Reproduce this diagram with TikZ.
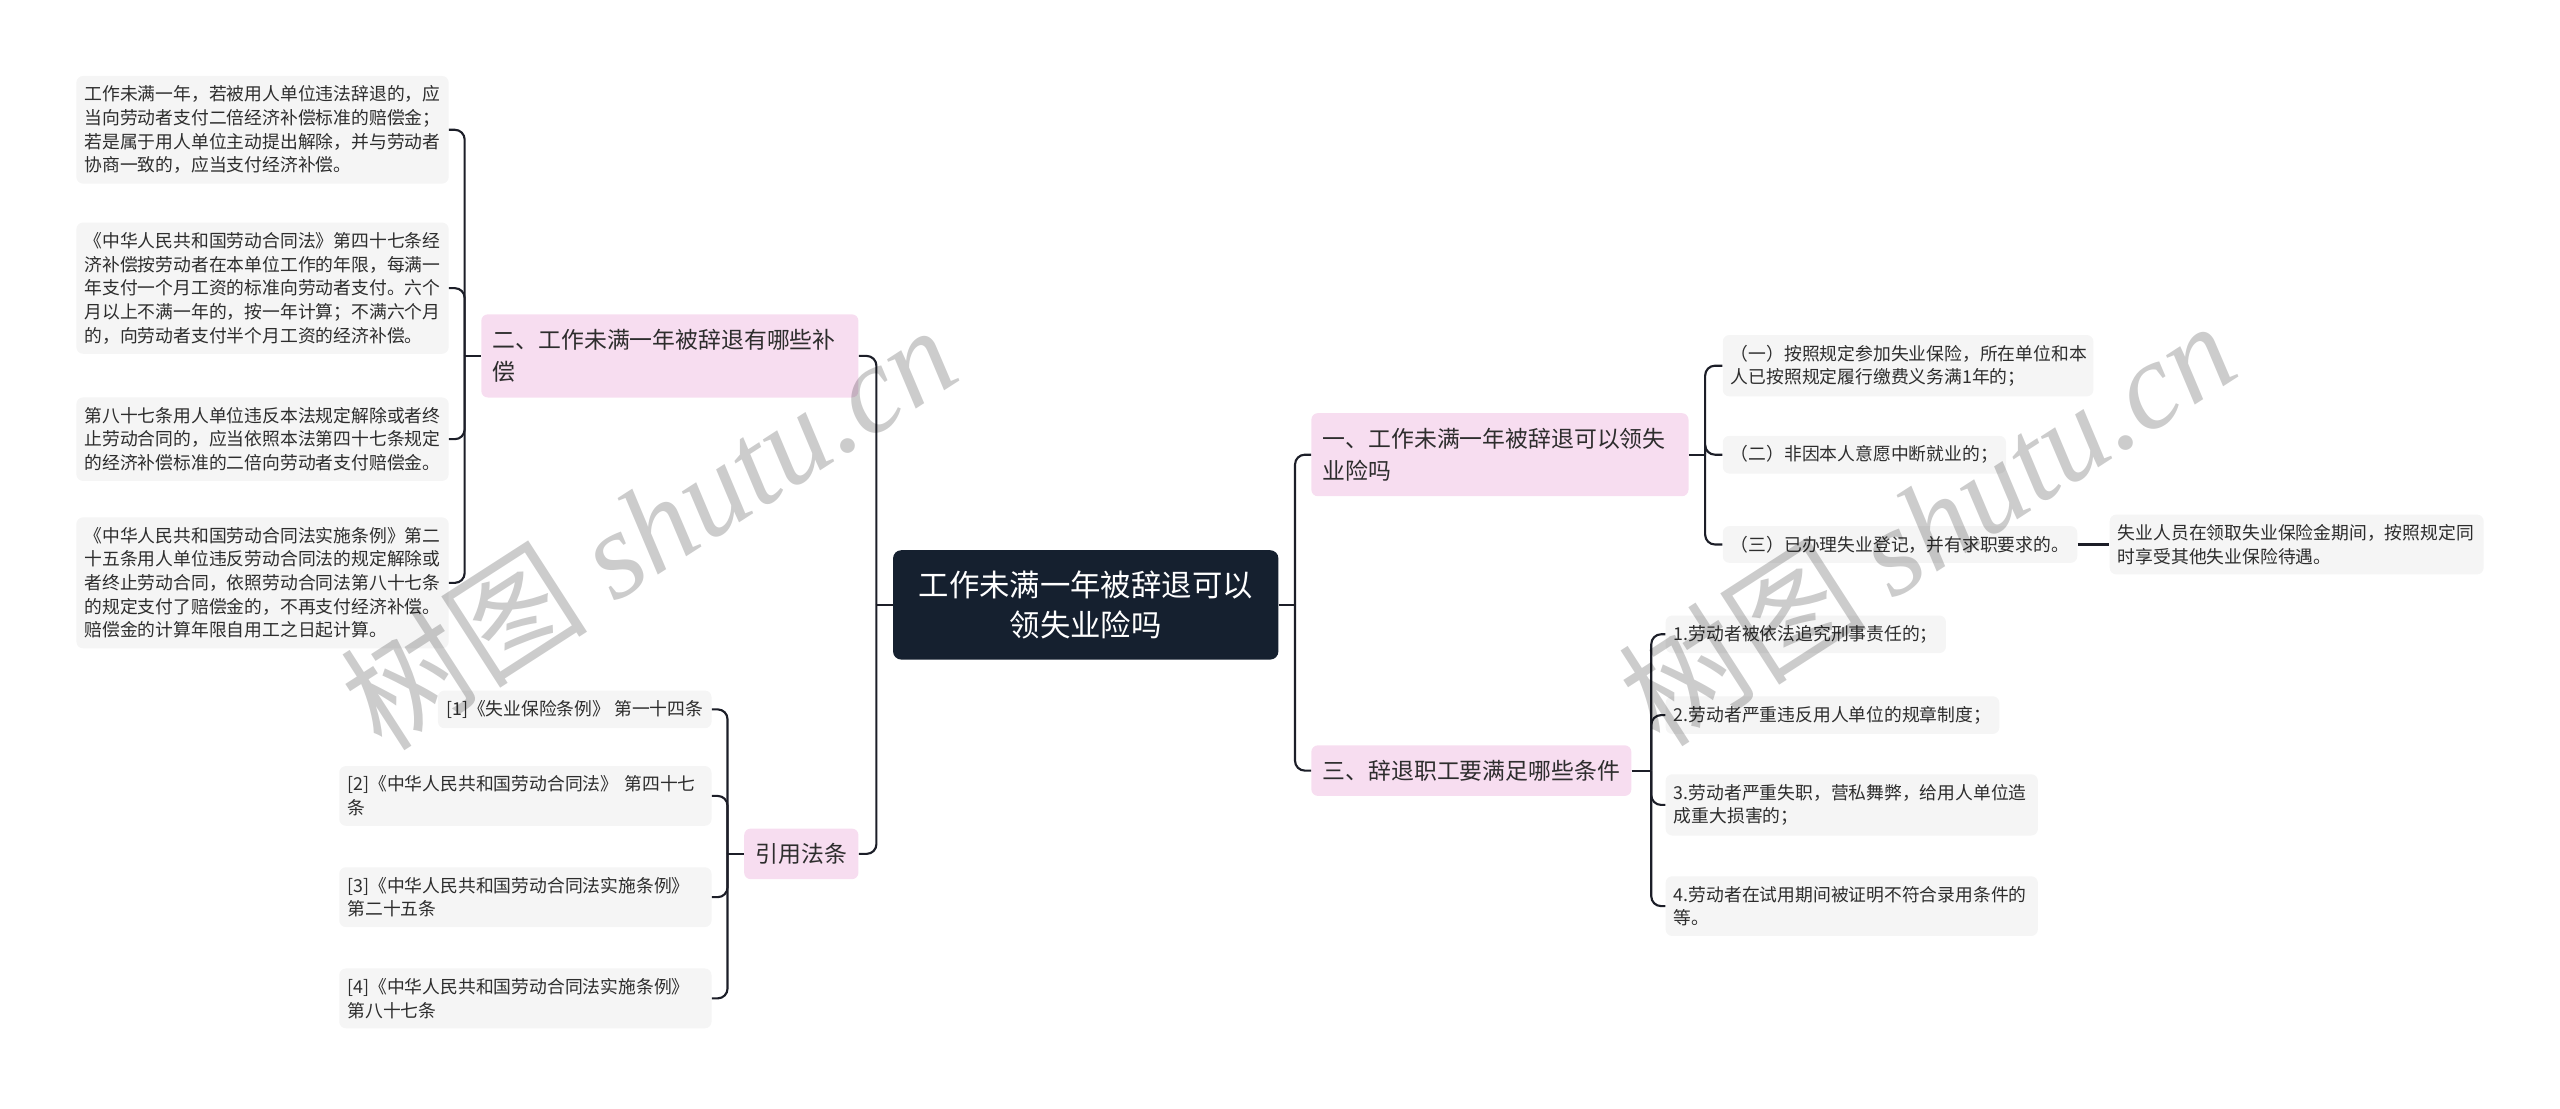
\documentclass[tikz,border=0pt]{standalone}
\usepackage{fontspec}
\setmainfont{Noto Sans CJK SC}
\newfontfamily\wmlatin{Liberation Serif}
\definecolor{pinkfill}{RGB}{247,221,240}
\definecolor{leaffill}{RGB}{245,245,245}
\definecolor{rootfill}{RGB}{21,32,47}
\definecolor{linec}{RGB}{28,30,40}
\definecolor{textc}{RGB}{45,45,45}
\begin{document}
\begin{tikzpicture}[x=1pt,y=-1pt,
  leaf/.style={fill=leaffill, rounded corners=4pt, inner xsep=5pt, inner ysep=6pt,
    font=\fontsize{10.9}{14.5}\selectfont, text=textc, align=left},
  branch/.style={fill=pinkfill, rounded corners=4pt, inner xsep=7pt, inner ysep=9pt,
    font=\fontsize{14}{20}\selectfont, text=textc, align=left},
  root/.style={fill=rootfill, text=white, rounded corners=5pt,
    font=\fontsize{18.6}{24}\selectfont, align=center, minimum width=236pt, minimum height=67pt},
  conn/.style={draw=linec, line width=1.3pt, rounded corners=6pt},
  wm/.style={rotate=32.8, text=black, opacity=0.2, font=\fontsize{76}{76}\selectfont}
]
\useasboundingbox (0,0) rectangle (1568,679.25);

% root
\node[root] (root) at (665,370.5) {工作未满一年被辞退可以\\领失业险吗};

% branches
\node[branch, anchor=west, text width=217pt] (b1) at (803,278.5) {一、工作未满一年被辞退可以领失\\业险吗};
\node[branch, anchor=west] (b3) at (803,472) {三、辞退职工要满足哪些条件};
\node[branch, anchor=east, text width=217pt] (b2) at (526,218) {二、工作未满一年被辞退有哪些补\\偿};
\node[branch, anchor=east] (b4) at (526,523) {引用法条};

% children of b1
\node[leaf, anchor=west, text width=217pt, inner xsep=5pt] (c1) at (1055,224) {（一）按照规定参加失业保险，所在单位和本\\人已按照规定履行缴费义务满1年的；};
\node[leaf, anchor=west] (c2) at (1055,278.5) {（二）非因本人意愿中断就业的；};
\node[leaf, anchor=west] (c3) at (1055,333.5) {（三）已办理失业登记，并有求职要求的。};
\node[leaf, anchor=west, text width=219pt] (c31) at (1292,333.5) {失业人员在领取失业保险金期间，按照规定同\\时享受其他失业保险待遇。};

% children of b3
\node[leaf, anchor=west] (d1) at (1020,388.5) {1.劳动者被依法追究刑事责任的；};
\node[leaf, anchor=west] (d2) at (1020,438) {2.劳动者严重违反用人单位的规章制度；};
\node[leaf, anchor=west, text width=218pt] (d3) at (1020,493) {3.劳动者严重失职，营私舞弊，给用人单位造\\成重大损害的；};
\node[leaf, anchor=west, text width=218pt] (d4) at (1020,555) {4.劳动者在试用期间被证明不符合录用条件的\\等。};

% children of b2
\node[leaf, anchor=east, text width=218pt] (l1) at (275,79.5) {工作未满一年，若被用人单位违法辞退的，应\\当向劳动者支付二倍经济补偿标准的赔偿金；\\若是属于用人单位主动提出解除，并与劳动者\\协商一致的，应当支付经济补偿。};
\node[leaf, anchor=east, text width=218pt] (l2) at (275,176.5) {《中华人民共和国劳动合同法》第四十七条经\\济补偿按劳动者在本单位工作的年限，每满一\\年支付一个月工资的标准向劳动者支付。六个\\月以上不满一年的，按一年计算；不满六个月\\的，向劳动者支付半个月工资的经济补偿。};
\node[leaf, anchor=east, text width=218pt] (l3) at (275,269) {第八十七条用人单位违反本法规定解除或者终\\止劳动合同的，应当依照本法第四十七条规定\\的经济补偿标准的二倍向劳动者支付赔偿金。};
\node[leaf, anchor=east, text width=218pt] (l4) at (275,357) {《中华人民共和国劳动合同法实施条例》第二\\十五条用人单位违反劳动合同法的规定解除或\\者终止劳动合同，依照劳动合同法第八十七条\\的规定支付了赔偿金的，不再支付经济补偿。\\赔偿金的计算年限自用工之日起计算。};

% children of b4
\node[leaf, anchor=east] (r1) at (436,434.5) {[1]《失业保险条例》 第一十四条};
\node[leaf, anchor=east, text width=218pt] (r2) at (436,487.5) {[2]《中华人民共和国劳动合同法》 第四十七\\条};
\node[leaf, anchor=east, text width=218pt] (r3) at (436,549.5) {[3]《中华人民共和国劳动合同法实施条例》\\第二十五条};
\node[leaf, anchor=east, text width=218pt] (r4) at (436,611.5) {[4]《中华人民共和国劳动合同法实施条例》\\第八十七条};

% connectors
\coordinate (jR) at ([xshift=10pt]root.east);
\coordinate (jL) at ([xshift=-10pt]root.west);
\draw[conn] (root.east) -- (jR);
\draw[conn] (jR) |- (b1.west);
\draw[conn] (jR) |- (b3.west);
\draw[conn] (root.west) -- (jL);
\draw[conn] (jL) |- (b2.east);
\draw[conn] (jL) |- (b4.east);

\coordinate (j1) at ([xshift=10pt]b1.east);
\draw[conn] (b1.east) -- (j1);
\draw[conn] (j1) |- (c1.west);
\draw[conn] (j1) |- (c2.west);
\draw[conn] (j1) |- (c3.west);
\draw[conn] (c3.east) -- (c31.west);

\coordinate (j3) at ([xshift=12pt]b3.east);
\draw[conn] (b3.east) -- (j3);
\draw[conn] (j3) |- (d1.west);
\draw[conn] (j3) |- (d2.west);
\draw[conn] (j3) |- (d3.west);
\draw[conn] (j3) |- (d4.west);

\coordinate (j2) at ([xshift=-10pt]b2.west);
\draw[conn] (b2.west) -- (j2);
\draw[conn] (j2) |- (l1.east);
\draw[conn] (j2) |- (l2.east);
\draw[conn] (j2) |- (l3.east);
\draw[conn] (j2) |- (l4.east);

\coordinate (j4) at ([xshift=-10pt]b4.west);
\draw[conn] (b4.west) -- (j4);
\draw[conn] (j4) |- (r1.east);
\draw[conn] (j4) |- (r2.east);
\draw[conn] (j4) |- (r3.east);
\draw[conn] (j4) |- (r4.east);

% watermarks
\node[wm] (wm1) at (397,322) {树图 {\wmlatin\itshape shutu.cn}};
\node[wm] (wm2) at (1180,320) {树图 {\wmlatin\itshape shutu.cn}};
\end{tikzpicture}
\end{document}
